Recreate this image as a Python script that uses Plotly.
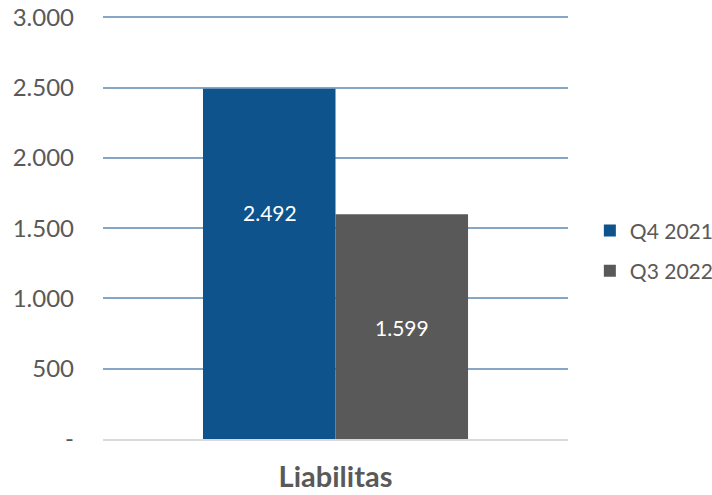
import plotly.graph_objects as go

categories = ["Liabilitas"]
series_names = ["Q4 2021", "Q3 2022"]
values_q4_2021 = [2492]
values_q3_2022 = [1599]
value_labels = ["2.492", "1.599"]
tick_vals = [0, 500, 1000, 1500, 2000, 2500, 3000]
tick_text = ["-", "500", "1.000", "1.500", "2.000", "2.500", "3.000"]

colors = ["#0E538C", "#595959"]
font_family = "Lato, Open Sans, Liberation Sans, sans-serif"

fig = go.Figure()
for name, vals, col in zip(series_names, [values_q4_2021, values_q3_2022], colors):
    fig.add_trace(go.Bar(x=categories, y=vals, name=name, legendgroup=name,
                         marker=dict(color=col, line=dict(width=0))))

# data labels
label_y = [1615, 790]
label_shift = [-66, 66]
for lab, ly, sh in zip(value_labels, label_y, label_shift):
    fig.add_annotation(x=categories[0], y=ly, xref="x", yref="y", xshift=sh, text=lab,
                       showarrow=False, font=dict(color="white", size=21, family=font_family))

fig.update_layout(
    width=712, height=495,
    margin=dict(l=103, r=144, t=16, b=56, autoexpand=False),
    paper_bgcolor="white", plot_bgcolor="white",
    barmode="group", bargap=0.43, bargroupgap=0,
    font=dict(family=font_family, color="#595959", size=21),
    legend=dict(x=1.047, y=0.445, xanchor="left", yanchor="middle",
                font=dict(size=21, color="#595959"), itemwidth=30,
                tracegroupgap=10, bgcolor="rgba(0,0,0,0)"),
    showlegend=True,
)
fig.update_yaxes(range=[0, 3010], tickvals=tick_vals, ticktext=tick_text,
                 showgrid=True, gridcolor="#86A6C6", gridwidth=2, automargin=False,
                 zeroline=False, showline=False, ticks="", ticklabelstandoff=28,
                 ticklabeloverflow="allow",
                 tickfont=dict(size=24, color="#595959"))
fig.update_xaxes(showline=True, linecolor="#D9D9D9", linewidth=2, ticks="", automargin=False,
                 ticklabeloverflow="allow",
                 tickfont=dict(size=29, color="#595959", family=font_family, weight="bold"),
                 ticklabelstandoff=11)

fig.write_html("out.html", config={"displayModeBar": False},
               post_script="document.body.style.margin='0';document.body.style.overflow='hidden';")
